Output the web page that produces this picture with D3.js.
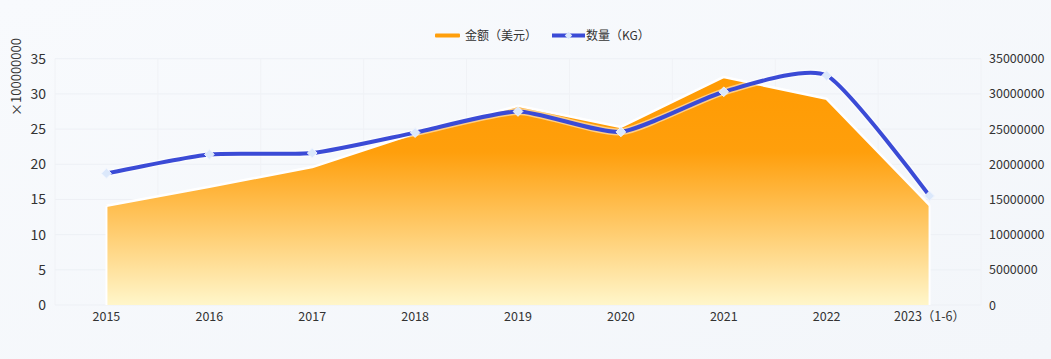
<!DOCTYPE html>
<html><head><meta charset="utf-8">
<script src="https://cdn.jsdelivr.net/npm/d3@7/dist/d3.min.js"></script>
<style>
html,body{margin:0;padding:0;background:#f6f8fb;}
svg{display:block;font-family:"Noto Sans CJK SC","Noto Sans",sans-serif;}
</style></head>
<body><svg id="c" width="1051" height="359"></svg>
<script>
const categories = ["2015","2016","2017","2018","2019","2020","2021","2022","2023（1-6）"];
const amountValues = [14.1, 16.8, 19.6, 24.4, 28.3, 25.3, 32.4, 29.3, 14.2]; // ×100000000 USD
const quantityValues = [18700000, 21400000, 21600000, 24500000, 27500000, 24600000, 30300000, 32600000, 15500000];
const leftTicks = [0,5,10,15,20,25,30,35];
const rightTicks = [0,5000000,10000000,15000000,20000000,25000000,30000000,35000000];
const seriesNames = ["金额（美元）","数量（KG）"];
const leftAxisName = "×100000000";

const W=1051,H=359, L=55, R=981, T=58.7, B=305;
const svg=d3.select("#c");
const defs=svg.append("defs");
const bg=defs.append("linearGradient").attr("id","bg").attr("x1",0).attr("y1",0).attr("x2",1).attr("y2",1);
bg.append("stop").attr("offset",0).attr("stop-color","#f8fafd");
bg.append("stop").attr("offset",1).attr("stop-color","#f3f6fa");
svg.append("rect").attr("width",W).attr("height",H).attr("fill","url(#bg)");

const x=d3.scaleBand().domain(categories).range([L,R]);
const cx=d=>x(d)+x.bandwidth()/2;
const yL=d3.scaleLinear().domain([0,35]).range([B,T]);
const yR=d3.scaleLinear().domain([0,35000000]).range([B,T]);

// grid
const g=svg.append("g");
g.selectAll(".hg").data(leftTicks).enter().append("line")
 .attr("x1",L).attr("x2",R).attr("y1",d=>yL(d)).attr("y2",d=>yL(d))
 .attr("stroke","#edf0f5").attr("stroke-width",1);
const bounds=categories.map(c=>x(c)).concat([R]);
g.selectAll(".vg").data(bounds).enter().append("line")
 .attr("x1",d=>d).attr("x2",d=>d).attr("y1",T).attr("y2",B)
 .attr("stroke","#f0f2f6").attr("stroke-width",1);

// area gradient
const ag=defs.append("linearGradient").attr("id","ag").attr("gradientUnits","userSpaceOnUse")
 .attr("x1",0).attr("x2",0).attr("y1",yL(35)).attr("y2",yL(0));
ag.append("stop").attr("offset",0).attr("stop-color","#ff9a00");
ag.append("stop").attr("offset",0.38).attr("stop-color","#ff9f0c");
ag.append("stop").attr("offset",1).attr("stop-color","#fff6ca");

const area=d3.area().x((d,i)=>cx(categories[i])).y0(yL(0)).y1(d=>yL(d));
svg.append("path").datum(amountValues).attr("d",area).attr("fill","url(#ag)");
const topLine=d3.line().x((d,i)=>cx(categories[i])).y(d=>yL(d));
svg.append("path").datum(amountValues).attr("d",topLine).attr("fill","none")
 .attr("stroke","#ffffff").attr("stroke-width",2.5).attr("stroke-linejoin","round");
svg.append("line").attr("x1",cx(categories[0])).attr("x2",cx(categories[0])).attr("y1",yL(amountValues[0])).attr("y2",yL(0)).attr("stroke","#fff").attr("stroke-width",2);
const last=categories.length-1;
svg.append("line").attr("x1",cx(categories[last])).attr("x2",cx(categories[last])).attr("y1",yL(amountValues[last])).attr("y2",yL(0)).attr("stroke","#fff").attr("stroke-width",2);

// quantity line
const qline=d3.line().x((d,i)=>cx(categories[i])).y(d=>yR(d)).curve(d3.curveCardinal.tension(0.4));
svg.append("path").datum(quantityValues).attr("d",qline).attr("fill","none")
 .attr("stroke","#ffffff").attr("stroke-opacity",0.5).attr("stroke-width",7);
svg.append("path").datum(quantityValues).attr("d",qline).attr("fill","none")
 .attr("stroke","#3b4bd6").attr("stroke-width",4);
const sym=d3.symbol().type(d3.symbolDiamond2).size(60);
svg.selectAll(".pt").data(quantityValues).enter().append("path")
 .attr("d",sym).attr("transform",(d,i)=>`translate(${cx(categories[i])},${yR(d)})`)
 .attr("fill","#dbe8fb").attr("stroke","#eef4ff").attr("stroke-width",1);

// axis labels
svg.selectAll(".ly").data(leftTicks).enter().append("text")
 .attr("x",46).attr("y",d=>yL(d)).attr("dy","0.36em").attr("text-anchor","end")
 .attr("font-size",14).attr("fill","#333").text(d=>d);
svg.selectAll(".ry").data(rightTicks).enter().append("text")
 .attr("x",989).attr("y",d=>yR(d)).attr("dy","0.36em").attr("text-anchor","start")
 .attr("font-size",12.5).attr("fill","#333").text(d=>d);
svg.selectAll(".xl").data(categories).enter().append("text")
 .attr("x",d=>cx(d)).attr("y",321).attr("text-anchor","middle")
 .attr("font-size",12.5).attr("fill","#333").text(d=>d);
svg.append("text").attr("transform","translate(21,77) rotate(-90)").attr("text-anchor","middle")
 .attr("font-size",13).attr("fill","#333").text(leftAxisName);

// legend
const lg=svg.append("g");
lg.append("rect").attr("x",435).attr("y",33.5).attr("width",25).attr("height",4).attr("rx",1).attr("fill","#ff9f0c");
lg.append("text").attr("x",465).attr("y",40).attr("font-size",12).attr("fill","#333").text(seriesNames[0]);
lg.append("line").attr("x1",552).attr("x2",585).attr("y1",35.5).attr("y2",35.5).attr("stroke","#3b4bd6").attr("stroke-width",4);
lg.append("path").attr("d",d3.symbol().type(d3.symbolDiamond2).size(36)).attr("transform","translate(568.5,35.5)").attr("fill","#dbe8fb");
lg.append("text").attr("x",586).attr("y",40).attr("font-size",12).attr("fill","#333").text(seriesNames[1]);
</script></body></html>
